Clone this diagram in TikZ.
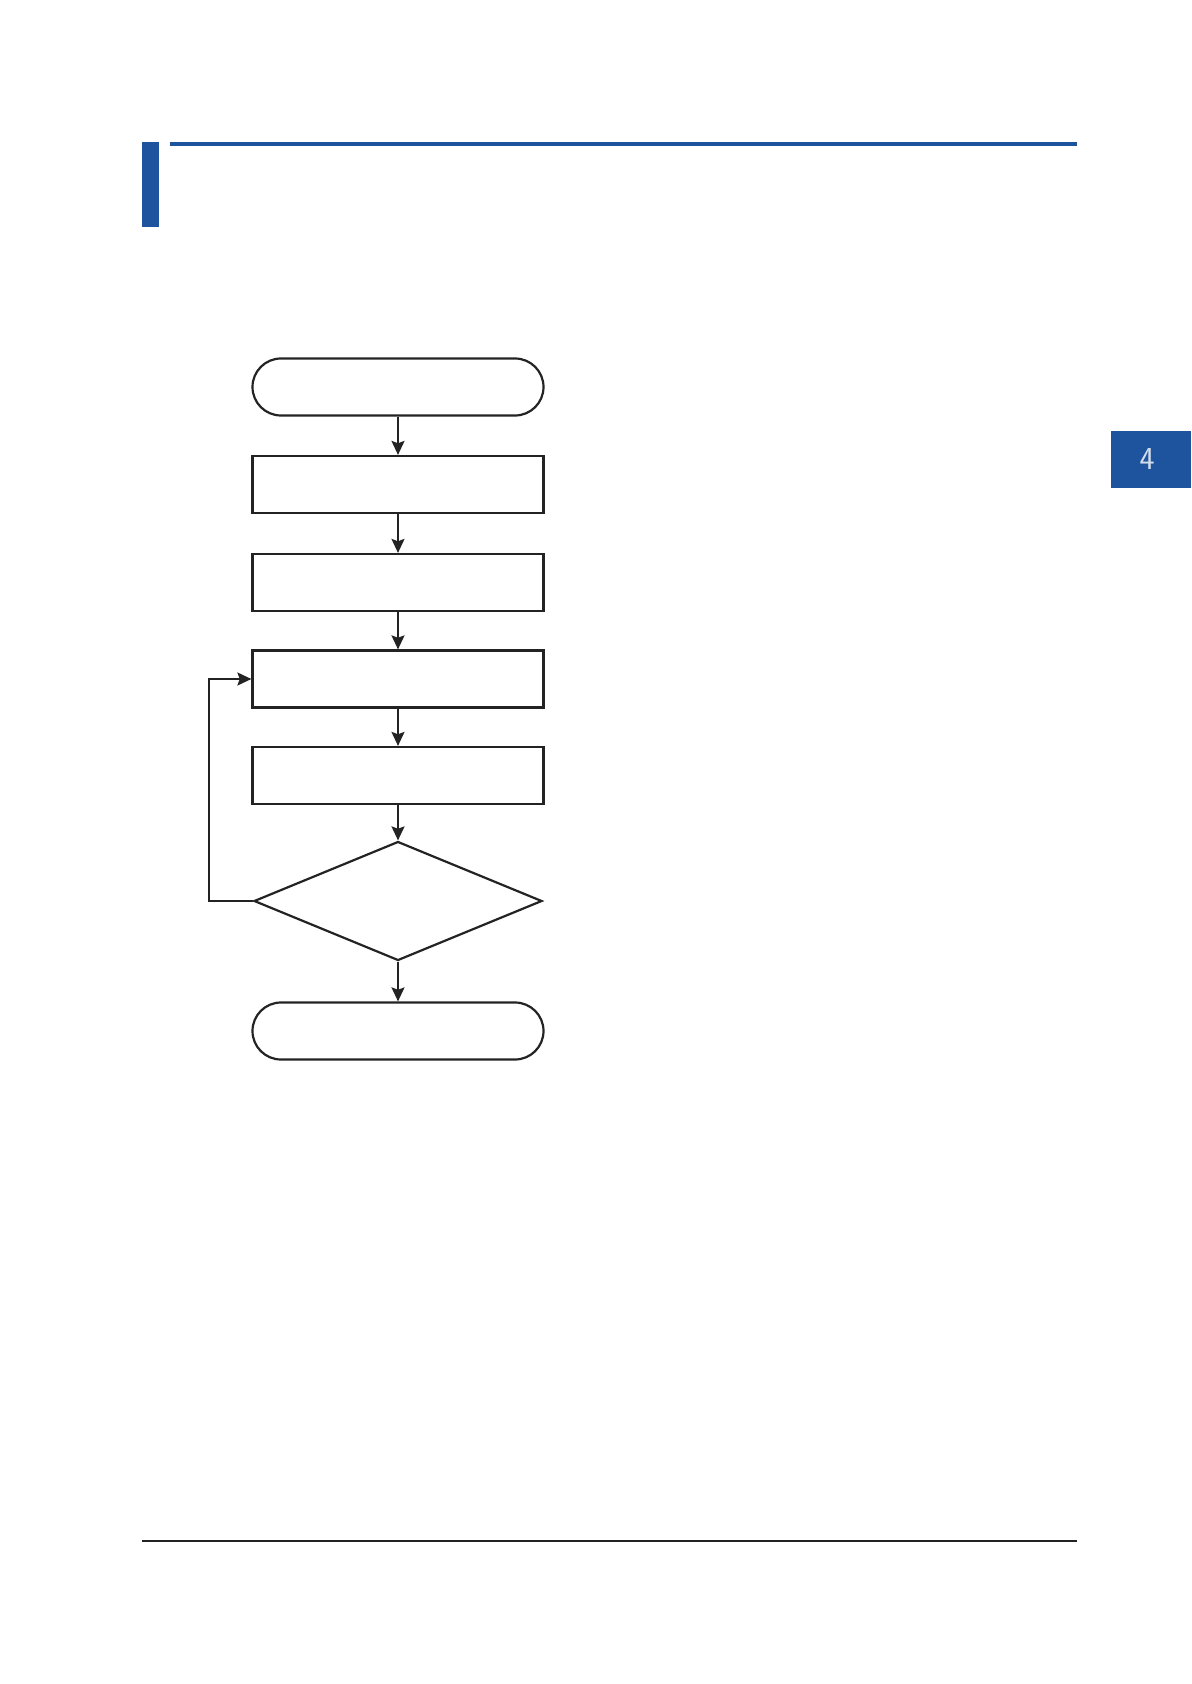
\documentclass[tikz,border=0pt]{standalone}
\usetikzlibrary{arrows.meta,positioning,shapes.misc,shapes.geometric}
\definecolor{chapterblue}{RGB}{30,84,158}
\definecolor{ruleblack}{RGB}{35,35,35}

\begin{document}
\begin{tikzpicture}[
    x=0.5pt,
    y=-0.5pt,
    >={Stealth[length=7pt,width=6.5pt,inset=1.2pt]},
    terminal/.style={rounded rectangle,draw=ruleblack,line width=1.1pt,minimum width=145.5pt,minimum height=28.5pt,inner sep=0pt},
    process/.style={rectangle,draw=ruleblack,line width=1.1pt,minimum width=145.5pt,minimum height=28.5pt,inner sep=0pt},
    decision/.style={diamond,draw=ruleblack,line width=1.1pt,minimum width=144pt,minimum height=59.5pt,inner sep=0pt},
    flow/.style={->,draw=ruleblack,line width=1.1pt}
]
  \useasboundingbox (0,0) rectangle (1191,1684);

  % page header and footer
  \fill[chapterblue] (142,142) rectangle (159,227);
  \fill[chapterblue] (170,142) rectangle (1077,146);
  \fill[chapterblue] (1111,431) rectangle (1191,488);
  \node[text=white!80!chapterblue,font=\fontsize{16}{18}\sffamily] (tab) at (1147,459) {4};
  \draw[ruleblack,line width=0.8pt] (142,1541) -- (1077,1541);

  % flow chart
  \node[terminal] (start) at (398,387) {};
  \node[process] (setup) at (398,484.5) {};
  \node[process] (prepare) at (398,582.5) {};
  \node[process] (measure) at (398,679) {};
  \node[process] (store) at (398,775.5) {};
  \node[decision] (check) at (398,901) {};
  \node[terminal] (finish) at (398,1031) {};

  \draw[flow] (start) -- (setup);
  \draw[flow] (setup) -- (prepare);
  \draw[flow] (prepare) -- (measure);
  \draw[flow] (measure) -- (store);
  \draw[flow] (store) -- (check);
  \draw[flow] (check) -- (finish);
  \draw[flow] (check.west) -- ++(-44,0) |- (measure.west);
\end{tikzpicture}
\end{document}
